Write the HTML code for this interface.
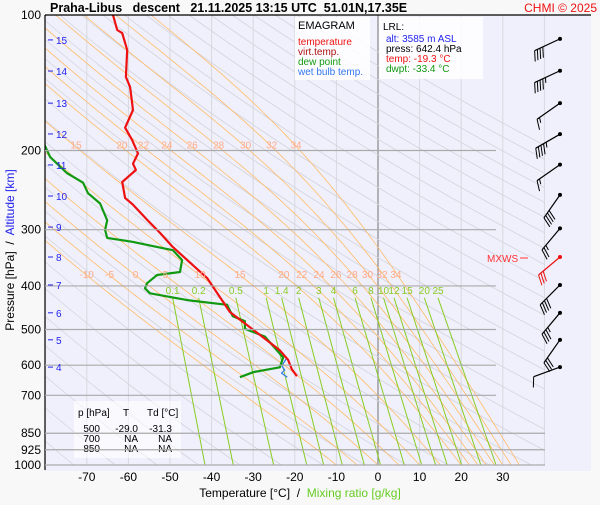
<!DOCTYPE html>
<html><head><meta charset="utf-8"><style>
body{margin:0;background:#f8f8f8;font-family:"Liberation Sans",sans-serif;}
svg text{font-family:"Liberation Sans",sans-serif;}
</style></head><body>
<svg id="c" width="600" height="500" viewBox="0 0 600 500">
<rect x="0" y="0" width="600" height="500" fill="#f8f8f8"/>
<rect x="45" y="15" width="546" height="456" fill="#f0f0fc"/>
<defs><clipPath id="pc"><rect x="45" y="15" width="500" height="450"/></clipPath></defs>
<g id="grid" clip-path="url(#pc)"></g>
<g id="series" clip-path="url(#pc)"></g>
<g id="overlay"></g>
<text x="50" y="12" font-size="12.5" font-weight="bold" style="white-space:pre">Praha-Libus   descent   21.11.2025 13:15 UTC  51.01N,17.35E</text>
<text x="597" y="12" font-size="12" fill="#ee1111" text-anchor="end">CHMI © 2025</text>
<line x1="45" y1="15" x2="591" y2="15" stroke="#000" stroke-width="1.2"/>
<line x1="45" y1="15" x2="45" y2="470" stroke="#000" stroke-width="1.2"/>
<g transform="translate(14,250) rotate(-90)">
<text x="0" y="0" font-size="12" text-anchor="middle" style="white-space:pre"><tspan fill="#000">Pressure [hPa]  /  </tspan><tspan fill="#2222ee">Altitude [km]</tspan></text></g>
<text x="300" y="497" font-size="12" text-anchor="middle" style="white-space:pre"><tspan fill="#000">Temperature [°C]  /  </tspan><tspan fill="#66cc22">Mixing ratio [g/kg]</tspan></text>
<rect x="295" y="17" width="75" height="63" fill="#fff" fill-opacity="0.85"/>
<text x="298" y="29" font-size="11">EMAGRAM</text>
<text x="298" y="45" font-size="10" fill="#ee1111">temperature</text>
<text x="298" y="55" font-size="10" fill="#aa1111">virt.temp.</text>
<text x="298" y="65" font-size="10" fill="#119911">dew point</text>
<text x="298" y="75" font-size="10" fill="#3377ee">wet bulb temp.</text>
<rect x="379" y="17" width="104" height="62" fill="#fff" fill-opacity="0.85"/>
<text x="383" y="30" font-size="10">LRL:</text>
<text x="386" y="42" font-size="10" fill="#2222ee">alt: 3585 m ASL</text>
<text x="386" y="52" font-size="10">press: 642.4 hPa</text>
<text x="386" y="62" font-size="10" fill="#ee1111">temp: -19.3 °C</text>
<text x="386" y="72" font-size="10" fill="#119911">dwpt: -33.4 °C</text>
<rect x="74" y="401" width="107" height="57" fill="#fff" fill-opacity="0.6"/>
<g font-size="10">
<text x="78" y="416">p [hPa]</text><text x="123" y="416">T</text><text x="147" y="416">Td [°C]</text>
<text x="100" y="432" text-anchor="end">500</text><text x="138" y="432" text-anchor="end">-29.0</text><text x="172" y="432" text-anchor="end">-31.3</text>
<text x="100" y="442" text-anchor="end">700</text><text x="138" y="442" text-anchor="end">NA</text><text x="172" y="442" text-anchor="end">NA</text>
<text x="100" y="452" text-anchor="end">850</text><text x="138" y="452" text-anchor="end">NA</text><text x="172" y="452" text-anchor="end">NA</text>
</g>
<text x="487" y="262" font-size="10" fill="#ff3333">MXWS</text>
<line x1="520" y1="258" x2="528" y2="258" stroke="#ff3333"/>
</svg>
<script>
const tempP=[100,108,109.7,119.6,137.3,144.6,162.6,178,189.5,203,214,221,235,255,264,285,305,328,384,457,514,556,584,613,635];
const tempT=[-63.7,-62.7,-61.5,-60.3,-60.6,-59.6,-58.9,-60.8,-59.1,-57.7,-58.9,-58.2,-61.5,-60.8,-58.9,-55.5,-52.4,-49.3,-41.1,-35.6,-28.4,-23.6,-21.6,-20.7,-19.5];
const dewP=[191.4,206.9,224.5,235.9,248.9,262.4,285.9,300.4,312.9,319.3,329.8,333.1,350.5,372.5,378.3,394.4,404.9,415.4,430,440.5,467.1,479.1,498.5,518.1,577,606.5,622,638];
const dewT=[-80.5,-78.8,-74.8,-70.9,-69.7,-66.8,-65.1,-65.6,-65.1,-58.9,-51.7,-49.3,-47.1,-47.6,-53.1,-55.5,-56,-54.8,-45.9,-36.3,-34.9,-32,-32,-27.2,-22.8,-23.6,-30,-33.2];
const wetP=[580,595,605,615,625,638];
const wetT=[-22.0,-22.8,-23.0,-22.4,-23.2,-21.8];
const pressTicks=[100,200,300,400,500,600,700,850,925,1000];
const tempTicks=[-70,-60,-50,-40,-30,-20,-10,0,10,20,30];
const altKm=[15,14,13,12,11,10,9,8,7,6,5,4];
const altP=[113.6,133.2,157,183.8,215.4,252.5,296,345,398,459,527,606];
const mixW=[0.1,0.2,0.5,1,1.4,2,3,4,6,8,10,12,15,20,25];
const moistTw=[-10,-5,0,5,10,15,20,22,24,26,28,30,32,34];
const dryTheta=[];for(let t=180;t<=500;t+=10)dryTheta.push(t);
const windP=[113,133,157,184,215,251,298,345,398,459,527,606];
const windDir=[245,245,235,240,235,215,220,230,225,220,215,250];
const windKt=[40,45,15,45,15,40,25,30,40,35,30,10];

const NS='http://www.w3.org/2000/svg';
const X=t=>378+4.16*t;
const Y=p=>15+450*Math.log10(p/100);
function mk(tag,a,parent){const e=document.createElementNS(NS,tag);for(const k in a)e.setAttribute(k,a[k]);parent.appendChild(e);return e;}
const grid=document.getElementById('grid'),ser=document.getElementById('series'),ov=document.getElementById('overlay'),svg=document.getElementById('c');
for(let t=-80;t<=40;t+=10){const l=mk('line',{x1:X(t),y1:15,x2:X(t),y2:465,stroke:t===0?'#888':'#d8d8e0','stroke-width':t===0?1.2:1},grid);

}
dryTheta.forEach(th=>{let d='';for(let lp=2;lp<=3.0001;lp+=0.02){const p=Math.pow(10,lp);const T=th*Math.pow(p/1000,0.286)-273.15;d+=(d?'L':'M')+X(T).toFixed(1)+','+Y(p).toFixed(1);}
const e=mk('path',{d:d,fill:'none',stroke:'#d4d4dc','stroke-width':0.8},grid);

});
const es=t=>6.112*Math.exp(17.67*t/(t+243.5));
moistTw.forEach(tw=>{let T=tw+273.15,p=1000,pts=[[p,T]];const dp=-5;
while(p>100){const tc=T-273.15;const rs=0.622*es(tc)/(p-es(tc));const Lv=2.5e6,Rd=287,cp=1005;
const dTdp=(Rd*T+Lv*rs)/(p*(cp+Lv*Lv*rs*0.622/(Rd*T*T)));T+=dTdp*dp;p+=dp;pts.push([p,T]);}
const d=pts.map((q,i)=>(i?'L':'M')+X(q[1]-273.15).toFixed(1)+','+Y(q[0]).toFixed(1)).join('');
const e=mk('path',{d:d,fill:'none',stroke:'#ffbb66','stroke-width':0.8},grid);

});
const tw=(w,p)=>{const e=w*p/(622+w);const a=Math.log(e/6.112);return 243.5*a/(17.67-a);};
mixW.forEach(w=>{const p0=425;const e=mk('line',{x1:X(tw(w,p0)),y1:Y(p0),x2:X(tw(w,1000)),y2:465,stroke:'#88cc22','stroke-width':1},grid);


const t=mk('text',{x:X(tw(w,p0)),y:Y(p0)-4,'font-size':10,fill:'#88cc22','text-anchor':'middle'},ov);t.textContent=w;

});
pressTicks.forEach(p=>{if(p>100){const e=mk('line',{x1:45,y1:Y(p),x2:p>=850?545:496,y2:Y(p),stroke:'#aaa','stroke-width':1.2},svg);

}
const t=mk('text',{x:41,y:Y(p)+4,'font-size':12,'text-anchor':'end'},svg);t.textContent=p;

});
tempTicks.forEach(tt=>{const t=mk('text',{x:X(tt),y:481,'font-size':12,'text-anchor':'middle'},svg);t.textContent=tt;

});
altKm.forEach((k,i)=>{const y=Y(altP[i]);const l=mk('line',{x1:48,y1:y,x2:53,y2:y,stroke:'#2222ee'},svg);


const t=mk('text',{x:56,y:y+4,'font-size':10,fill:'#2222ee'},svg);t.textContent=k;

});
[[15,200],[20,200],[22,200],[24,200],[26,200],[28,200],[30,200],[32,200],[34,200],[-10,388],[-5,388],[0,388],[5,388],[10,388],[15,388],[20,388],[22,388],[24,388],[26,388],[28,388],[30,388],[32,388],[34,388]].forEach(a=>{
let T=a[0]+273.15,p=1000;while(p>a[1]){const tc=T-273.15;const rs=0.622*es(tc)/(p-es(tc));T+=(287*T+2.5e6*rs)/(p*(1005+6.25e12*rs*0.622/(287*T*T)))*-5;p-=5;}
const t=mk('text',{x:X(T-273.15)-4,y:Y(a[1])-2,'font-size':10,fill:'#ffaa88','text-anchor':'middle'},ov);t.textContent=a[0];

});
function line(P,T,col,w,name){const d=P.map((p,i)=>(i?'L':'M')+X(T[i]).toFixed(1)+','+Y(p).toFixed(1)).join('');
const e=mk('path',{d:d,fill:'none',stroke:col,'stroke-width':w,'stroke-linejoin':'round'},ser);

}
line(wetP,wetT,'#3377ee',1.2,'wet-bulb-line');
line(dewP,dewT,'#119911',2.2,'dew-point-line');
line(tempP,tempT,'#ee1111',2.2,'temperature-line');
windP.forEach((p,i)=>{const y=Y(p);const x=560;const a=windDir[i]*Math.PI/180;
const L=28;const ux=Math.sin(a),uy=-Math.cos(a);const col=i===7?'#ee1111':'#000';
const g=mk('g',{},ov);


mk('circle',{cx:x,cy:y,r:2,fill:col},g);
const ex=x+ux*L,ey=y+uy*L;
mk('line',{x1:x,y1:y,x2:ex,y2:ey,stroke:col,'stroke-width':1.2},g);
// perpendicular pointing downward-right of staff
let px=-uy,py=ux; if(py<0){px=-px;py=-py;}
let kt=windKt[i],k=0;
while(kt>=10){const bx=ex-ux*k*3,by=ey-uy*k*3;mk('line',{x1:bx,y1:by,x2:bx+px*10+ux*4,y2:by+py*10+uy*4,stroke:col},g);kt-=10;k++;}
if(kt>=5){const bx=ex-ux*k*3,by=ey-uy*k*3;mk('line',{x1:bx,y1:by,x2:bx+px*5+ux*2,y2:by+py*5+uy*2,stroke:col},g);}
});
</script>
</body></html>
